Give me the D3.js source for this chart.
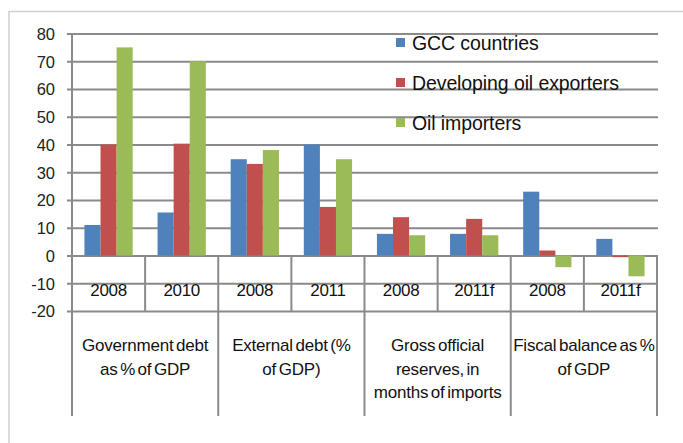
<!DOCTYPE html>
<html>
<head>
<meta charset="utf-8">
<script src="https://cdn.jsdelivr.net/npm/d3@7"></script>
<style>
  html, body { margin: 0; padding: 0; background: #fff; }
  svg { display: block; font-family: "Liberation Sans", Arial, sans-serif; }
</style>
</head>
<body>
<svg id="chart" width="683" height="443"></svg>
<script>
// Indicator groups (wrapped label lines) and the period shown under each bar cluster
const groups = [
  ["Government debt", "as % of GDP"],
  ["External debt (%", "of GDP)"],
  ["Gross official", "reserves, in", "months of imports"],
  ["Fiscal balance as %", "of GDP"]
];
const periods = ["2008", "2010", "2008", "2011", "2008", "2011f", "2008", "2011f"];

// Series values, one per period
const seriesNames = ["GCC countries", "Developing oil exporters", "Oil importers"];
const gcc        = [11, 15.5, 34.7, 40, 7.8, 7.8, 23, 6];
const devOil     = [40, 40.3, 33, 17.5, 13.8, 13.2, 1.8, -0.6];
const oilImport  = [75, 70, 38, 34.7, 7.3, 7.3, -4.2, -7.5];
const colors     = ["#4F81BD", "#C0504D", "#9BBB59"];

const yTicks = [80, 70, 60, 50, 40, 30, 20, 10, 0, -10, -20];

const svg = d3.select("#chart");
const W = 683, H = 443;
const plotLeft = 72, plotRight = 657, plotTop = 33.5, plotBottom = 311;
const gridColor = "#8a8a8a";

// Outer frame (top and left edges visible)
svg.append("path")
  .attr("d", `M9,${H + 2} V11.5 H${W + 2}`)
  .attr("fill", "none").attr("stroke", "#cfcfcf").attr("stroke-width", 1.5);

const y = d3.scaleLinear().domain([-20, 80]).range([plotBottom, plotTop]);
const x = d3.scaleBand().domain(d3.range(periods.length))
  .range([plotLeft, plotRight]).paddingInner(0.34).paddingOuter(0.17);
const xs = d3.scaleBand().domain(d3.range(seriesNames.length)).range([0, x.bandwidth()]);
const cells = d3.scaleBand().domain(d3.range(periods.length)).range([plotLeft, plotRight]);
const groupScale = d3.scaleBand().domain(d3.range(groups.length)).range([plotLeft, plotRight]);

// Gridlines with left tick marks; labels use a plain hyphen for negatives
const yAxis = d3.axisLeft(y).tickValues(yTicks).tickSize(0).tickFormat(d => String(d));
const gAxis = svg.append("g").attr("transform", `translate(${plotLeft},0)`).call(yAxis);
gAxis.select(".domain").remove();
gAxis.selectAll(".tick line")
  .attr("x1", -5).attr("x2", plotRight - plotLeft + 1)
  .attr("stroke", gridColor).attr("stroke-width", 2);
gAxis.selectAll(".tick text")
  .attr("x", -17).attr("fill", "#222").style("font-size", "16.5px").attr("dy", "0.36em");

// Legend (drawn over the gridlines, no background)
const legend = svg.append("g");
seriesNames.forEach((name, i) => {
  const by = 50 + i * 40;
  legend.append("rect").attr("x", 396).attr("y", by - 12).attr("width", 9).attr("height", 9).attr("fill", colors[i]);
  legend.append("text").attr("x", 412).attr("y", by).text(name)
    .attr("fill", "#111").style("font-size", "19.5px").style("letter-spacing", "-0.1px");
});

// Bars
const series = [gcc, devOil, oilImport];
series.forEach((vals, si) => {
  svg.append("g").selectAll("rect").data(vals).join("rect")
    .attr("x", (d, i) => x(i) + xs(si))
    .attr("width", xs.bandwidth())
    .attr("y", d => y(Math.max(0, d)))
    .attr("height", d => Math.max(1, Math.abs(y(d) - y(0))))
    .attr("fill", colors[si]);
});

// Category table: period cells between 0 and -20, group cells below
const table = svg.append("g").attr("stroke", gridColor).attr("stroke-width", 2);
table.append("line").attr("x1", plotLeft).attr("x2", plotLeft).attr("y1", plotTop).attr("y2", 416);
d3.range(1, periods.length + 1).forEach(i => {
  const xx = cells(i - 1) + cells.bandwidth();
  const isGroupEdge = i % 2 === 0;
  table.append("line").attr("x1", xx).attr("x2", xx)
    .attr("y1", y(0)).attr("y2", isGroupEdge ? 416 : y(-20));
});

svg.append("g").selectAll("text").data(periods).join("text")
  .attr("x", (d, i) => cells(i) + cells.bandwidth() / 2)
  .attr("y", 296)
  .attr("text-anchor", "middle")
  .attr("fill", "#111")
  .style("font-size", "17px")
  .style("letter-spacing", "-0.3px")
  .text(d => d);

const gl = svg.append("g");
groups.forEach((lines, gi) => {
  lines.forEach((ln, li) => {
    gl.append("text")
      .attr("x", groupScale(gi) + groupScale.bandwidth() / 2)
      .attr("y", 351 + li * 23.5)
      .attr("text-anchor", "middle")
      .attr("fill", "#111")
      .style("font-size", "17px")
      .style("word-spacing", "-2px")
      .style("letter-spacing", "-0.2px")
      .text(ln);
  });
});
</script>
</body>
</html>
